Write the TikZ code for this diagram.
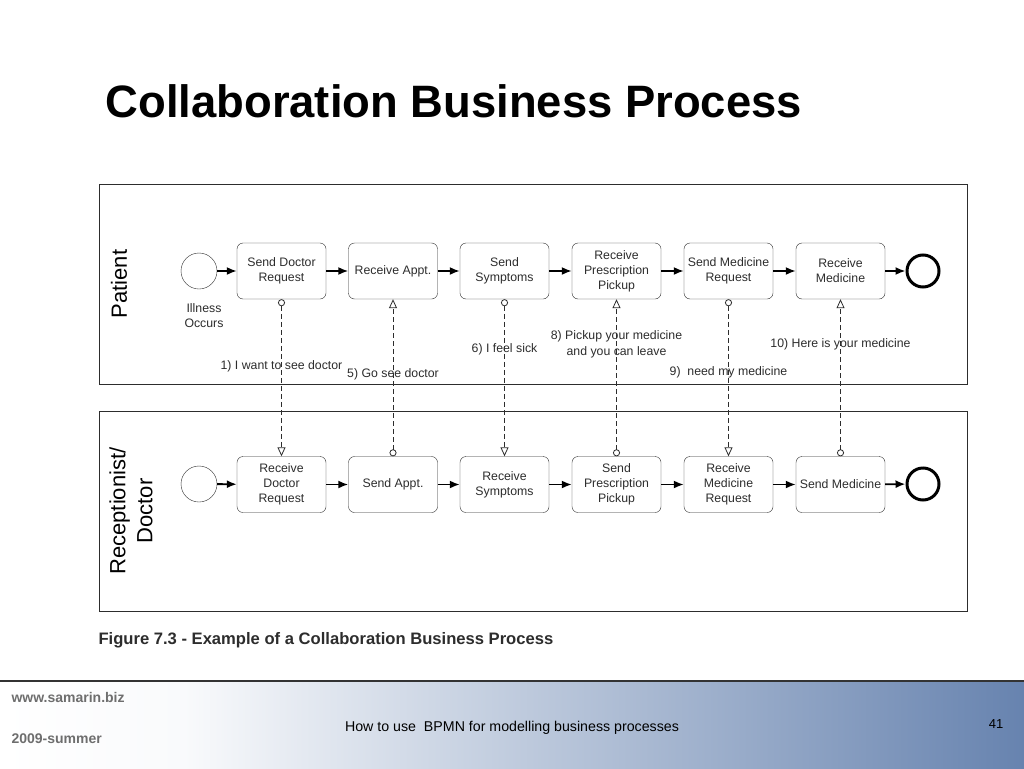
\documentclass[tikz,border=0pt]{standalone}
\usepackage{fontspec}
\setmainfont{Liberation Sans}
\usetikzlibrary{arrows.meta,positioning}
\definecolor{footblue}{RGB}{103,131,175}
\definecolor{inkgray}{RGB}{45,45,45}
\definecolor{footgray}{RGB}{110,110,110}
\pgfdeclarehorizontalshading{footfade}{100bp}{color(0bp)=(white); color(25bp)=(white); color(34bp)=(white!96!footblue); color(75bp)=(footblue); color(100bp)=(footblue)}

\begin{document}
\begin{tikzpicture}[x=1pt, y=-1pt,
    task/.style={draw=inkgray, rounded corners=6pt, minimum width=89pt, minimum height=56pt,
                 align=center, inner sep=1pt, text=inkgray, font=\fontsize{12.3}{15}\selectfont},
    startev/.style={draw=inkgray, circle, minimum size=36pt, inner sep=0pt},
    endev/.style={draw=black, circle, line width=3pt, minimum size=32pt, inner sep=0pt},
    seqflow/.style={line width=1.8pt, -{Latex[length=10pt,width=8pt]}},
    msgflow/.style={inkgray, line width=0.8pt, dash pattern=on 5pt off 3pt,
                    {Circle[open,length=7pt,width=7pt]}-{Triangle[open,length=9pt,width=8pt]}},
    msglabel/.style={text=inkgray, align=center, font=\fontsize{12.3}{16}\selectfont},
    pool/.style={draw=inkgray, line width=0.9pt},
    lanelabel/.style={rotate=90, align=center, font=\fontsize{22}{27}\selectfont}]

  % 1. Rahmen und Hintergrund
  \useasboundingbox (0,0) rectangle (1024,768);
  \fill[white] (0,0) rectangle (1024,768);
  \shade[shading=footfade] (0,682) rectangle (1024,768);
  \draw[line width=1.6pt, black!80] (0,681) -- (1024,681);

  % 2. Titel
  \node[anchor=base west, font=\bfseries\fontsize{45.4}{50}\selectfont] (title) at (102,117) {Collaboration Business Process};

  % 3. Pools
  \draw[pool] (99,184) rectangle (967,384);
  \draw[pool] (99,411) rectangle (967,611);
  \node[lanelabel] (patient) at (119,284) {Patient};
  \node[lanelabel] (recep) at (131,511) {Receptionist/\\Doctor};

  % 4. Ereignisse
  \node[startev] (ps) at (199,271) {};
  \node[text=inkgray, align=center, font=\fontsize{12.3}{15}\selectfont, below=11pt of ps, xshift=5pt] (illness) {Illness\\Occurs};
  \node[endev] (pe) at (923,271) {};
  \node[startev] (ds) at (199,484) {};
  \node[endev] (de) at (923,484) {};

  % 5. Aufgaben (oben Patient, unten Arzt)
  \foreach \i/\x/\ptxt/\dtxt in {1/281.5/{Send Doctor\\Request}/{Receive\\Doctor\\Request},
                                 2/393/{Receive Appt.}/{Send Appt.},
                                 3/504.5/{Send\\Symptoms}/{Receive\\Symptoms},
                                 4/616.5/{Receive\\Prescription\\Pickup}/{Send\\Prescription\\Pickup},
                                 5/728.5/{Send Medicine\\Request}/{Receive\\Medicine\\Request},
                                 6/840.5/{Receive\\Medicine}/{Send Medicine}}{
    \node[task] (p\i) at (\x,271) {\ptxt};
    \node[task] (d\i) at (\x,484.5) {\dtxt};
  }

  % 6. Sequenzfluss
  \foreach \a/\b in {ps/p1,p1/p2,p2/p3,p3/p4,p4/p5,p5/p6,p6/pe,
                     ds/d1,d1/d2,d2/d3,d3/d4,d4/d5,d5/d6,d6/de}
    \draw[seqflow] (\a) -- (\b);

  % 7. Nachrichtenfluss
  \draw[msgflow] (p1.south) -- node[msglabel, pos=0.43] (m1) {1) I want to see doctor} (d1.north);
  \draw[msgflow] (d2.north) -- node[msglabel, pos=0.52] (m5) {5) Go see doctor} (p2.south);
  \draw[msgflow] (p3.south) -- node[msglabel, pos=0.32] (m6) {6) I feel sick} (d3.north);
  \draw[msgflow] (d4.north) -- node[msglabel, pos=0.71] (m8) {8) Pickup your medicine\\and you can leave} (p4.south);
  \draw[msgflow] (p5.south) -- node[msglabel, pos=0.465] (m9) {9)\ \ need my medicine} (d5.north);
  \draw[msgflow] (d6.north) -- node[msglabel, pos=0.71] (m10) {10) Here is your medicine} (p6.south);

  % 8. Bildunterschrift und Fusszeile
  \node[anchor=base west, font=\bfseries\fontsize{16.6}{18}\selectfont, inkgray] (caption) at (95,644) {Figure 7.3 - Example of a Collaboration Business Process};
  \node[anchor=base west, font=\bfseries\fontsize{14}{16}\selectfont, footgray] (web) at (8,702) {www.samarin.biz};
  \node[anchor=base west, font=\bfseries\fontsize{14}{16}\selectfont, footgray] (season) at (8,743) {2009-summer};
  \node[anchor=base, font=\fontsize{14.2}{16}\selectfont] (topic) at (512,731) {How to use\ \ BPMN for modelling business processes};
  \node[anchor=base, font=\fontsize{13}{15}\selectfont] (page) at (996,728) {41};
\end{tikzpicture}
\end{document}
